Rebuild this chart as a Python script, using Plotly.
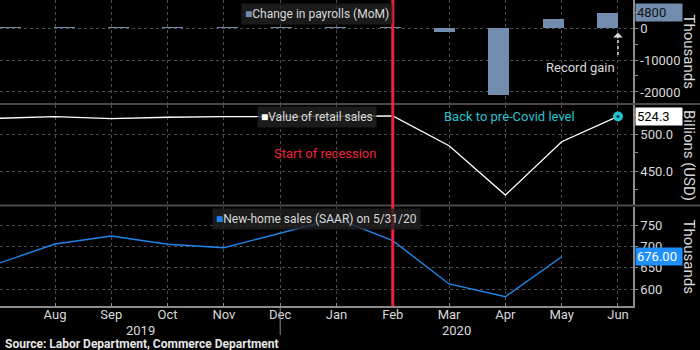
import plotly.graph_objects as go

# ---------------- data ----------------
months = ["Jul", "Aug", "Sep", "Oct", "Nov", "Dec", "Jan", "Feb", "Mar", "Apr", "May", "Jun"]
payrolls = [194, 207, 208, 185, 261, 184, 214, 251, -1373, -20787, 2725, 4800]
retail = [521.8, 524.0, 521.3, 523.2, 524.0, 524.3, 525.5, 524.9, 484.5, 417.3, 489.9, 524.3]
home_months = months[:-1]
home_sales = [660.6, 705.7, 724.3, 705.0, 697.0, 730.6, 765.0, 713.4, 612.4, 582.7, 676.0]
years = ["2019", "2020"]
payroll_ticks = [-20000, -10000, 0]
retail_ticks = [450, 500]
home_ticks = [600, 650, 700, 750]

# ---------------- style ----------------
BG = "#000000"
TXT = "#d9d9d9"
GRID = "#4d4d4d"
AXIS = "#8c8c8c"
BAR = "#728cae"
BLUE = "#1e86ea"
CYAN = "#22c3d0"
RED = "#f0203a"
FONT = "Roboto"

xr = [0.023, 11.267]          # visible range of the month axis (category index)
xr_bar = [-0.184, 11.469]     # bar overlay axis range

fig = go.Figure()

fig.add_trace(go.Bar(x=months, y=payrolls, xaxis="x4", yaxis="y",
                     marker=dict(color=BAR, line=dict(width=0)), width=0.387,
                     showlegend=False, hoverinfo="skip"))
fig.add_trace(go.Scatter(x=months, y=retail, xaxis="x3", yaxis="y2", mode="lines",
                         line=dict(color="#ffffff", width=1.3), showlegend=False))
fig.add_trace(go.Scatter(x=[months[-1]], y=[retail[-1]], xaxis="x3", yaxis="y2", mode="markers",
                         marker=dict(size=10, color=CYAN, line=dict(width=0)),
                         showlegend=False))
fig.add_trace(go.Scatter(x=[months[-1]], y=[retail[-1]], xaxis="x3", yaxis="y2", mode="markers",
                         marker=dict(size=3, color="#0a3a40", line=dict(width=0)),
                         showlegend=False))
fig.add_trace(go.Scatter(x=home_months, y=home_sales, xaxis="x", yaxis="y3", mode="lines",
                         line=dict(color=BLUE, width=1.4), showlegend=False))

H = 306.0
d1 = [(H - 103) / H, 1.0]
d2 = [(H - 205) / H, (H - 105) / H]
d3 = [0.0, (H - 207) / H]

xcommon = dict(type="category", categoryorder="array", categoryarray=months, range=xr,
               showgrid=True, gridcolor=GRID, griddash="dot", gridwidth=1, zeroline=False)
tickfont = dict(family=FONT, size=13, color=TXT)
ycommon = dict(side="right", showline=True, linecolor=AXIS, linewidth=1.5, ticks="outside",
               ticklen=3, tickcolor=AXIS, showgrid=True, gridcolor=GRID, griddash="dot",
               zeroline=False, tickfont=tickfont, fixedrange=True)

fig.update_layout(
    width=700, height=350, paper_bgcolor=BG, plot_bgcolor=BG,
    margin=dict(l=0, r=67, t=0, b=44),
    font=dict(family=FONT, color=TXT),
    showlegend=False,
    bargap=0,
    xaxis=dict(**xcommon, anchor="y3", showline=True, linecolor=AXIS, linewidth=1.5,
               ticks="inside", ticklen=3, tickcolor=AXIS, tickfont=tickfont,
               ticklabelstandoff=-4),
    xaxis2=dict(**xcommon, anchor="y", matches="x", showticklabels=False),
    xaxis3=dict(**xcommon, anchor="y2", matches="x", showticklabels=False),
    xaxis4=dict(type="category", categoryorder="array", categoryarray=months, range=xr_bar,
                overlaying="x2", anchor="y", visible=False),
    yaxis=dict(**ycommon, domain=d1, anchor="x2", range=[-23440, 8750],
               tickvals=payroll_ticks, ticktext=[str(v) for v in payroll_ticks],
               minor=dict(ticks="outside", ticklen=3, tickcolor=AXIS, dtick=5000,
                          tick0=0, showgrid=False)),
    yaxis2=dict(**ycommon, domain=d2, anchor="x3", range=[403.7, 539.9],
                tickvals=retail_ticks, ticktext=[f"{v:.1f}" for v in retail_ticks],
                minor=dict(ticks="outside", ticklen=3, tickcolor=AXIS, dtick=25,
                           tick0=0, showgrid=False)),
    yaxis3=dict(**ycommon, domain=d3, anchor="x", range=[561, 792],
                tickvals=home_ticks, ticktext=[str(v) for v in home_ticks]),
)

# panel separators (full width)
for ypx in (104, 205.5):
    yp = (H - ypx) / H
    fig.add_shape(type="line", xref="paper", yref="paper", x0=0, x1=700 / 633, y0=yp, y1=yp,
                  line=dict(color="#4a4a4a", width=2))

# start of recession line
fig.add_shape(type="line", xref="x", yref="paper", x0="Feb", x1="Feb", y0=0, y1=1,
              line=dict(color=RED, width=3))

# year separator tick below axis (Dec / Jan boundary)
fig.add_shape(type="line", xref="x", yref="paper", x0="Dec", x1="Dec", y0=0, y1=-29 / H,
              line=dict(color=AXIS, width=1))

# dotted arrow "Record gain"
fig.add_shape(type="line", xref="x2", yref="y", x0="Jun", x1="Jun", y0=-8400, y1=-2600,
              line=dict(color="#dddddd", width=1.5, dash="dot"))

ann = []
ann.append(dict(x="Jun", y=-1500, xref="x2", yref="y", text="", showarrow=True,
                ax=0, ay=7, arrowhead=1, arrowsize=1.6, arrowwidth=1, arrowcolor="#dddddd"))
ann.append(dict(x="Jun", y=-12500, xref="x2", yref="y", text="Record gain", showarrow=False,
                xanchor="right", xshift=-1, yanchor="middle",
                font=dict(family=FONT, size=13, color=TXT)))
ann.append(dict(x="Feb", y=474.5, xref="x3", yref="y2", text="Start of recession",
                showarrow=False, xanchor="right", xshift=-15, yanchor="middle",
                font=dict(family=FONT, size=13, color=RED)))
ann.append(dict(x="Jun", y=retail[-1], xref="x3", yref="y2", text="Back to pre-Covid level",
                showarrow=False, xanchor="right", xshift=-41, yanchor="middle",
                font=dict(family=FONT, size=13, color=CYAN)))

# legend-like boxes
legend_items = [
    ("Change in payrolls (MoM)", BAR, d1[1], 3),
    ("Value of retail sales", "#ffffff", d2[1], 1),
    ("New-home sales (SAAR) on 5/31/20", BLUE, d3[1], 1),
]
for label, col, ytop, ysh in legend_items:
    ann.append(dict(x=0.5, y=ytop, xref="paper", yref="paper", xanchor="center", yanchor="top",
                    yshift=-ysh, showarrow=False,
                    text=f"<span style='color:{col}'>■</span>{label}",
                    bgcolor="rgba(34,34,34,0.8)", borderpad=3,
                    font=dict(family=FONT, size=12, color=TXT)))

# right-hand value labels
value_labels = [
    (str(payrolls[-1]), payrolls[-1], "y", BAR, "#111111"),
    (f"{retail[-1]:.1f}", retail[-1], "y2", "#ffffff", "#000000"),
    (f"{home_sales[-1]:.2f}", home_sales[-1], "y3", "#1f8fff", "#ffffff"),
]
for txt, val, yref, bg, fc in value_labels:
    ann.append(dict(x=1, y=val, xref="paper", yref=yref, xanchor="left", yanchor="middle",
                    xshift=2, showarrow=False, text=txt, bgcolor=bg, width=44, align="left",
                    borderpad=1, font=dict(family=FONT, size=13, color=fc)))

# axis titles (rotated, reading top to bottom)
for title, (lo, hi) in (("Thousands", d1), ("Billions (USD)", d2), ("Thousands", d3)):
    ann.append(dict(x=689 / 633, y=(lo + hi) / 2, xref="paper", yref="paper", xanchor="center",
                    yanchor="middle", textangle=90, showarrow=False, text=title,
                    font=dict(family=FONT, size=15, color=TXT)))

# year labels centred under their visible span
sep = months.index("Dec")
spans = [(xr[0], sep), (sep, xr[1])]
for yr, (a, b) in zip(years, spans):
    ann.append(dict(x=((a + b) / 2 - xr[0]) / (xr[1] - xr[0]), y=-24 / H, xref="paper",
                    yref="paper", xanchor="center", yanchor="middle", showarrow=False,
                    text=yr, font=dict(family=FONT, size=13, color=TXT)))

ann.append(dict(x=0, y=-38 / H, xref="paper", yref="paper", xanchor="left", yanchor="middle",
                xshift=3, showarrow=False,
                text="<b>Source: Labor Department, Commerce Department</b>",
                font=dict(family=FONT, size=12, color="#e6e6e6")))

fig.update_layout(annotations=ann)
fig.write_html("out.html")
